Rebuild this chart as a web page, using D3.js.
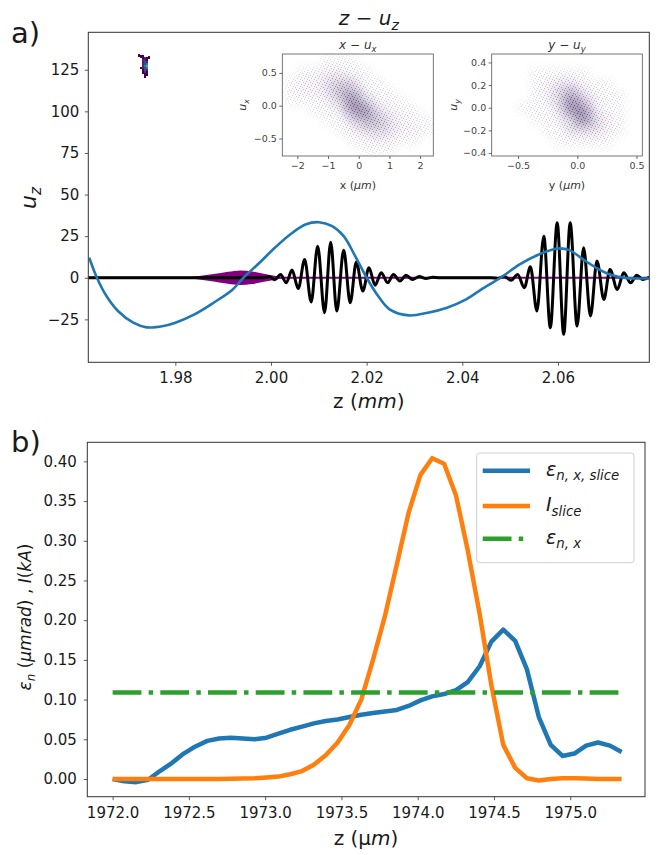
<!DOCTYPE html>
<html>
<head>
<meta charset="utf-8">
<script src="https://cdn.jsdelivr.net/npm/d3@7"></script>
<style>
  body { margin: 0; background: #fff; }
  svg { display: block; }
  text { font-family: "DejaVu Sans", sans-serif; }
</style>
</head>
<body>
<svg id="chart" width="660" height="855"></svg>
<script>
// ---------------- panel a) : z - u_z phase space ----------------
// wakefield (blue), sampled along z in mm
const wakeZ = [1.9620,1.9636,1.9656,1.9680,1.9712,1.9740,1.9775,1.9800,1.9840,1.9880,1.9920,1.99424,1.9976,2.0008,2.0040,2.0072,2.0100,2.0128,2.0152,2.0176,2.0200,2.0224,2.0248,2.0288,2.0328,2.0368,2.0408,2.0440,2.0480,2.0520,2.0560,2.0600,2.0624,2.0648,2.0680,2.0712,2.0744,2.0791];
const wakeU = [12,0,-11,-20,-27,-29.8,-29,-27,-22,-15,-7,0,9,18,26,32,33.4,31,25,13,0,-11,-19,-22.6,-21,-18,-13,-7,0,8,14,17.6,16.6,12,6,1.6,-0.2,-0.4];

// laser field (black): extrema of the two wave packets
const laserZ = [1.9618,1.9985,1.9996,2.0008,2.0020,2.0032,2.0044,2.0057,2.00704,2.0084,2.00976,2.0112,2.01248,2.01376,2.0152,2.01656,2.01784,2.0192,2.02048,2.02176,2.02304,2.0244,2.0256,2.02696,2.02824,2.0296,2.0310,2.0324,2.0338,2.0352,
                2.0460,2.0474,2.0488,2.0502,2.05158,2.05296,2.05424,2.0556,2.05704,2.0584,2.05984,2.0612,2.06256,2.0640,2.06536,2.0668,2.06816,2.0696,2.07088,2.0724,2.07376,2.0752,2.07648,2.07776,2.0791];
const laserE = [0,0,0.8,-1.2,2.0,-3.0,4.6,-6.5,11,-14.6,19,-21,21.4,-20,16.6,-15,9.5,-8,6,-4.5,3,-3,2,-2,1.5,-1,0.7,-0.5,0.3,0,
                0,-0.4,0.8,-1.5,2,-6,6.6,-20,25,-30,33,-34,33,-29,18,-23,10,-13,5,-7,3,-3,1.5,-1,0.3];

// electron bunch envelope (purple band)
const envZ = [1.9815,1.9850,1.9880,1.9910,1.9936,1.9960,1.9985,2.0010,2.0030];
const envHalf = [0,1.0,2.2,3.6,4.4,3.8,2.4,1.0,0];

// witness bunch in (z, u_z): binned particle counts (level 1..5)
const blobCells = [
  [1.9728,133.0,1],[1.9732,133.0,1],[1.9736,132.2,1],
  [1.9732,131.8,1],[1.9736,131.8,2],[1.9740,131.8,1],
  [1.9732,130.6,2],[1.9736,130.6,2],[1.9740,130.6,1],
  [1.9732,129.4,2],[1.9736,129.4,3],[1.9740,129.4,2],
  [1.9732,128.2,2],[1.9736,128.2,3],[1.9740,128.2,4],
  [1.9732,127.0,2],[1.9736,127.0,4],[1.9740,127.0,5],
  [1.9732,125.8,2],[1.9736,125.8,3],[1.9740,125.8,4],
  [1.9732,124.6,1],[1.9736,124.6,3],[1.9740,124.6,2],
  [1.9732,123.4,1],[1.9736,123.4,2],[1.9740,123.4,1],
  [1.9736,122.2,1],[1.9740,122.2,1],[1.9736,121.0,1],
  [1.9724,133.6,1],[1.9744,132.4,1],[1.9728,126.0,1]
];

const zTicksTop = [1.98, 2.00, 2.02, 2.04, 2.06];
const uzTicks = [-25, 0, 25, 50, 75, 100, 125];

// transverse phase spaces (insets): binned densities
const xCenters = [-2.2,-1.8,-1.4,-1.0,-0.6,-0.2,0.2,0.6,1.0,1.4,1.8,2.2];
const uxCenters = [0.675,0.525,0.375,0.225,0.075,-0.075,-0.225,-0.375,-0.525,-0.675];
const densityX = [
  [0,0,0,1,1,1,0,0,0,0,0,0],
  [0,1,1,2,2,1,1,0,0,0,0,0],
  [1,2,2,3,4,3,1,1,0,0,0,0],
  [1,2,2,3,5,5,2,1,1,0,0,0],
  [1,1,1,2,4,7,4,2,1,1,0,0],
  [0,0,1,1,2,6,7,3,2,1,1,0],
  [0,0,0,1,1,3,5,5,3,2,1,1],
  [0,0,0,0,1,2,3,4,3,2,2,1],
  [0,0,0,0,0,1,1,2,2,1,1,0],
  [0,0,0,0,0,0,1,1,1,0,0,0]
];
const yCenters = [-0.65,-0.55,-0.45,-0.35,-0.25,-0.15,-0.05,0.05,0.15,0.25,0.35,0.45];
const uyCenters = [0.4,0.3,0.2,0.1,0.0,-0.1,-0.2,-0.3,-0.4];
const densityY = [
  [0,0,0,0,0,0,0,0,0,0,0,0],
  [0,0,0,1,1,1,1,1,0,0,0,0],
  [0,0,0,1,2,3,3,2,1,1,0,0],
  [0,0,0,1,2,4,6,3,2,1,1,0],
  [0,0,1,1,1,3,8,6,2,1,1,0],
  [0,0,0,1,1,2,4,7,4,2,1,0],
  [0,0,0,0,1,1,3,3,3,2,1,0],
  [0,0,0,0,0,1,1,1,1,1,0,0],
  [0,0,0,0,0,0,0,0,0,0,0,0]
];
const xTicksIn = [-2,-1,0,1,2];
const uxTicksIn = [-0.5,0,0.5];
const yTicksIn = [-0.5,0,0.5];
const uyTicksIn = [-0.4,-0.2,0,0.2,0.4];

// ---------------- panel b) : slice emittance and current ----------------
const zSlice = [1972.000,1972.078,1972.155,1972.233,1972.310,1972.388,1972.466,1972.543,1972.621,1972.698,1972.776,1972.854,1972.931,1973.009,1973.087,1973.164,1973.242,1973.319,1973.397,1973.475,1973.552,1973.630,1973.707,1973.785,1973.863,1973.940,1974.018,1974.095,1974.173,1974.251,1974.328,1974.406,1974.483,1974.561,1974.639,1974.716,1974.794,1974.872,1974.949,1975.027,1975.104,1975.182,1975.260,1975.337];
const emitSlice = [0.000,-0.003,-0.004,-0.001,0.010,0.020,0.032,0.041,0.048,0.051,0.052,0.051,0.050,0.052,0.057,0.062,0.066,0.070,0.073,0.075,0.078,0.081,0.083,0.085,0.087,0.092,0.099,0.104,0.107,0.112,0.122,0.142,0.173,0.188,0.174,0.138,0.078,0.043,0.029,0.032,0.042,0.046,0.042,0.034];
const currentSlice = [0,0,0,0,0,0,0,0,0,0,0.0003,0.0005,0.001,0.002,0.003,0.006,0.010,0.018,0.030,0.046,0.068,0.100,0.150,0.205,0.270,0.335,0.383,0.404,0.397,0.357,0.288,0.208,0.118,0.043,0.014,0.001,-0.002,0,0.001,0.001,0.0005,0,0,0];
const emitProjected = 0.109;
const zTicksB = [1972.0,1972.5,1973.0,1973.5,1974.0,1974.5,1975.0];
const valTicksB = [0,0.05,0.10,0.15,0.20,0.25,0.30,0.35,0.40];

// ======================================================================
const svg = d3.select('#chart');
const defs = svg.append('defs');
const FONT = '"DejaVu Sans", sans-serif';

function addClip(id, x0, y0, x1, y1) {
  defs.append('clipPath').attr('id', id).append('rect')
    .attr('x', x0).attr('y', y0).attr('width', x1 - x0).attr('height', y1 - y0);
}
function addBlur(id, sd) {
  defs.append('filter').attr('id', id).attr('x', '-30%').attr('y', '-30%').attr('width', '160%').attr('height', '160%')
    .append('feGaussianBlur').attr('stdDeviation', sd);
}
addBlur('haze', 5.5);
addBlur('hazeTight', 3.5);

// fine speckle used to texture the particle clouds
const speck = defs.append('pattern').attr('id', 'speckle').attr('patternUnits', 'userSpaceOnUse')
  .attr('width', 7).attr('height', 7);
[[0.5, 0.5], [3.5, 1.5], [5.5, 4.5], [1.5, 3.5], [4.5, 6.5], [2.5, 5.5], [6.5, 2.5]].forEach(p =>
  speck.append('rect').attr('x', p[0] - 0.5).attr('y', p[1] - 0.5).attr('width', 1).attr('height', 1).attr('fill', '#3a1d5e'));

// text with italic runs and subscripts
function rich(parent, x, y, parts, size, anchor, rotate) {
  const t = parent.append('text').attr('x', x).attr('y', y)
    .attr('font-size', size).attr('text-anchor', anchor || 'start').attr('fill', '#1a1a1a');
  if (rotate) t.attr('transform', `rotate(${rotate},${x},${y})`);
  let inSub = false;
  parts.forEach(p => {
    const ts = t.append('tspan').text(p.t);
    if (p.i) ts.attr('font-style', 'italic');
    if (p.s) ts.attr('font-size', size * 0.7);
    if (p.s && !inSub) { ts.attr('dy', size * 0.24); inSub = true; }
    else if (!p.s && inSub) { ts.attr('dy', -size * 0.24); inSub = false; }
  });
  return t;
}

function styleAxis(g, size, color) {
  g.select('.domain').remove();
  g.selectAll('.tick line').attr('stroke', color || '#333').attr('stroke-width', 0.8);
  g.selectAll('.tick text').attr('font-size', size).attr('font-family', FONT).attr('fill', color || '#1a1a1a');
}

// ---------------- panel a ----------------
const A = { l: 88.3, r: 649.3, t: 32.3, b: 362.3 };
const xA = d3.scaleLinear().domain([1.9618, 2.0791]).range([A.l, A.r]);
const yA = d3.scaleLinear().domain([-50.8, 147.5]).range([A.b, A.t]);
addClip('clipA', A.l, A.t, A.r, A.b);

const gA = svg.append('g').attr('clip-path', 'url(#clipA)');

// bunch envelope
gA.append('path')
  .datum(d3.zip(envZ, envHalf))
  .attr('d', d3.area().x(d => xA(d[0])).y0(d => yA(-d[1])).y1(d => yA(d[1])).curve(d3.curveMonotoneX))
  .attr('fill', '#800080');
// bunch axis
gA.append('path')
  .datum([laserZ[0], laserZ[laserZ.length - 1]])
  .attr('d', d3.line().x(d => xA(d)).y(() => yA(0)))
  .attr('stroke', '#800080').attr('stroke-width', 2.2).attr('fill', 'none');
// laser field
gA.append('path')
  .datum(d3.zip(laserZ, laserE))
  .attr('d', d3.line().x(d => xA(d[0])).y(d => yA(d[1])).curve(d3.curveMonotoneX))
  .attr('stroke', '#000').attr('stroke-width', 3).attr('fill', 'none').attr('stroke-linejoin', 'round');
// wakefield
gA.append('path')
  .datum(d3.zip(wakeZ, wakeU))
  .attr('d', d3.line().x(d => xA(d[0])).y(d => yA(d[1])).curve(d3.curveCatmullRom.alpha(0.5)))
  .attr('stroke', '#1f77b4').attr('stroke-width', 2.6).attr('fill', 'none');

// witness bunch cells
const blobColor = ['#f0e6f5', '#440154', '#482878', '#3e4a89', '#26828e', '#35b779'];
const dzCell = 0.0004, duCell = 1.2;
gA.append('g').attr('shape-rendering', 'crispEdges').selectAll('rect').data(blobCells).join('rect')
  .attr('x', d => xA(d[0] - dzCell / 2))
  .attr('y', d => yA(d[1] + duCell / 2))
  .attr('width', xA(dzCell) - xA(0) + 0.4)
  .attr('height', yA(0) - yA(duCell) + 0.4)
  .attr('fill', d => blobColor[d[2]]);

// axes of panel a
svg.append('g').attr('transform', `translate(0,${A.b})`)
  .call(d3.axisBottom(xA).tickValues(zTicksTop).tickFormat(d3.format('.2f')).tickSize(3.5).tickPadding(7))
  .call(g => styleAxis(g, 15));
svg.append('g').attr('transform', `translate(${A.l},0)`)
  .call(d3.axisLeft(yA).tickValues(uzTicks).tickFormat(d3.format('d')).tickSize(3.5).tickPadding(5.5))
  .call(g => styleAxis(g, 15));
svg.append('rect').attr('x', A.l).attr('y', A.t).attr('width', A.r - A.l).attr('height', A.b - A.t)
  .attr('fill', 'none').attr('stroke', '#333').attr('stroke-width', 1);

rich(svg, 368.8, 25, [{ t: 'z', i: 1 }, { t: ' − ' }, { t: 'u', i: 1 }, { t: 'z', i: 1, s: 1 }], 20, 'middle');
rich(svg, 368.8, 408, [{ t: 'z (' }, { t: 'mm', i: 1 }, { t: ')' }], 20, 'middle');
rich(svg, 36, 198, [{ t: 'u', i: 1 }, { t: 'z', i: 1, s: 1 }], 22, 'middle', -90);
svg.append('text').attr('x', 11).attr('y', 43).attr('font-size', 29).attr('fill', '#1a1a1a').text('a)');

// ---------------- insets ----------------
function inset(cfg) {
  const { l, r, t, b } = cfg.box;
  const x = d3.scaleLinear().domain(cfg.xDom).range([l, r]);
  const y = d3.scaleLinear().domain(cfg.yDom).range([b, t]);
  const id = 'clip' + cfg.key;
  addClip(id, l, t, r, b);
  svg.append('rect').attr('x', l).attr('y', t).attr('width', r - l).attr('height', b - t).attr('fill', '#fff');
  const cells = [];
  cfg.rows.forEach((u, i) => cfg.cols.forEach((c, j) => {
    if (cfg.grid[i][j] > 0) cells.push({ c, u, n: cfg.grid[i][j] });
  }));
  const cellRects = (sel, fill, op) => sel.selectAll('rect').data(cells).join('rect')
    .attr('x', d => x(d.c - cfg.bx / 2)).attr('y', d => y(d.u + cfg.by / 2))
    .attr('width', x(cfg.bx) - x(0)).attr('height', y(0) - y(cfg.by))
    .attr('fill', fill).attr('fill-opacity', op);

  // luminance mask built from the density cells
  const mask = defs.append('mask').attr('id', 'mask' + cfg.key).attr('maskUnits', 'userSpaceOnUse')
    .attr('x', l).attr('y', t).attr('width', r - l).attr('height', b - t);
  mask.append('rect').attr('x', l).attr('y', t).attr('width', r - l).attr('height', b - t).attr('fill', '#000');
  cellRects(mask.append('g').attr('filter', 'url(#hazeTight)'), '#fff', d => Math.min(0.25 + d.n * 0.11, 1));

  const g = svg.append('g').attr('clip-path', `url(#${id})`);
  // faint haze of the cloud
  cellRects(g.append('g').attr('filter', 'url(#haze)'), '#3a1d5e', d => Math.min(d.n * d.n * 0.012, 0.55));
  // speckled particles
  g.append('rect').attr('x', l).attr('y', t).attr('width', r - l).attr('height', b - t)
    .attr('fill', 'url(#speckle)').attr('opacity', 0.55).attr('mask', `url(#mask${cfg.key})`);

  svg.append('g').attr('transform', `translate(0,${b})`)
    .call(d3.axisBottom(x).tickValues(cfg.xTicks).tickFormat(cfg.xFmt).tickSize(3).tickPadding(3))
    .call(g => styleAxis(g, 9.5, '#444'));
  svg.append('g').attr('transform', `translate(${l},0)`)
    .call(d3.axisLeft(y).tickValues(cfg.yTicks).tickFormat(d3.format('.1f')).tickSize(3).tickPadding(2.5))
    .call(g => styleAxis(g, 9.5, '#444'));
  svg.append('rect').attr('x', l).attr('y', t).attr('width', r - l).attr('height', b - t)
    .attr('fill', 'none').attr('stroke', '#555').attr('stroke-width', 0.8);
  const cx = (l + r) / 2;
  rich(svg, cx, 49, cfg.title, 12, 'middle').attr('fill', '#333');
  rich(svg, cx, 189, cfg.xLabel, 11, 'middle').attr('fill', '#333');
  rich(svg, cfg.yLabelX, (t + b) / 2, cfg.yLabel, 11, 'middle', -90).attr('fill', '#333');
}

inset({
  key: 'X', box: { l: 282.3, r: 433.3, t: 54, b: 156 },
  xDom: [-2.49, 2.43], yDom: [-0.767, 0.788],
  cols: xCenters, rows: uxCenters, grid: densityX, bx: 0.4, by: 0.15,
  xTicks: xTicksIn, xFmt: d3.format('d'), yTicks: uxTicksIn,
  title: [{ t: 'x', i: 1 }, { t: ' − ' }, { t: 'u', i: 1 }, { t: 'x', i: 1, s: 1 }],
  xLabel: [{ t: 'x (' }, { t: 'μm', i: 1 }, { t: ')' }],
  yLabel: [{ t: 'u', i: 1 }, { t: 'x', i: 1, s: 1 }], yLabelX: 246
});
inset({
  key: 'Y', box: { l: 491.7, r: 642.3, t: 54, b: 156 },
  xDom: [-0.723, 0.549], yDom: [-0.427, 0.475],
  cols: yCenters, rows: uyCenters, grid: densityY, bx: 0.1, by: 0.1,
  xTicks: yTicksIn, xFmt: d3.format('.1f'), yTicks: uyTicksIn,
  title: [{ t: 'y', i: 1 }, { t: ' − ' }, { t: 'u', i: 1 }, { t: 'y', i: 1, s: 1 }],
  xLabel: [{ t: 'y (' }, { t: 'μm', i: 1 }, { t: ')' }],
  yLabel: [{ t: 'u', i: 1 }, { t: 'y', i: 1, s: 1 }], yLabelX: 457
});

// ---------------- panel b ----------------
const B = { l: 87.3, r: 645, t: 442.3, b: 796.7 };
const xB = d3.scaleLinear().domain([1971.834, 1975.49]).range([B.l, B.r]);
const yB = d3.scaleLinear().domain([-0.0223, 0.424]).range([B.b, B.t]);
addClip('clipB', B.l, B.t, B.r, B.b);
const gB = svg.append('g').attr('clip-path', 'url(#clipB)');

const lineB = d3.line().x(d => xB(d[0])).y(d => yB(d[1]));
gB.append('path').datum(d3.zip(zSlice, emitSlice)).attr('d', lineB)
  .attr('stroke', '#1f77b4').attr('stroke-width', 4.5).attr('fill', 'none').attr('stroke-linejoin', 'round');
gB.append('path').datum(d3.zip(zSlice, currentSlice)).attr('d', lineB)
  .attr('stroke', '#ff7f0e').attr('stroke-width', 4.5).attr('fill', 'none').attr('stroke-linejoin', 'round');
gB.append('path').datum([[zSlice[0], emitProjected], [zSlice[zSlice.length - 1], emitProjected]]).attr('d', lineB)
  .attr('stroke', '#2ca02c').attr('stroke-width', 4.5).attr('fill', 'none')
  .attr('stroke-dasharray', '28.8,7.2,4.5,7.2');

svg.append('g').attr('transform', `translate(0,${B.b})`)
  .call(d3.axisBottom(xB).tickValues(zTicksB).tickFormat(d3.format('.1f')).tickSize(3.5).tickPadding(7.5))
  .call(g => styleAxis(g, 15));
svg.append('g').attr('transform', `translate(${B.l},0)`)
  .call(d3.axisLeft(yB).tickValues(valTicksB).tickFormat(d3.format('.2f')).tickSize(3.5).tickPadding(7))
  .call(g => styleAxis(g, 15));
svg.append('rect').attr('x', B.l).attr('y', B.t).attr('width', B.r - B.l).attr('height', B.b - B.t)
  .attr('fill', 'none').attr('stroke', '#333').attr('stroke-width', 1);

rich(svg, 366, 845, [{ t: 'z (μ' }, { t: 'm', i: 1 }, { t: ')' }], 20, 'middle');
rich(svg, 31, 617, [{ t: 'ε', i: 1 }, { t: 'n', i: 1, s: 1 }, { t: ' (' }, { t: 'μmrad', i: 1 }, { t: ') , ' }, { t: 'I', i: 1 }, { t: '(' }, { t: 'kA', i: 1 }, { t: ')' }], 17, 'middle', -90);
svg.append('text').attr('x', 11).attr('y', 452).attr('font-size', 29).attr('fill', '#1a1a1a').text('b)');

// legend
const legendItems = [
  { color: '#1f77b4', dash: null, label: [{ t: 'ε', i: 1 }, { t: 'n, x, slice', i: 1, s: 1 }] },
  { color: '#ff7f0e', dash: null, label: [{ t: 'I', i: 1 }, { t: 'slice', i: 1, s: 1 }] },
  { color: '#2ca02c', dash: '28.8,7.2,4.5,7.2', label: [{ t: 'ε', i: 1 }, { t: 'n, x', i: 1, s: 1 }] }
];
const lg = svg.append('g');
lg.append('rect').attr('x', 476.7).attr('y', 453).attr('width', 157.3).attr('height', 109.7).attr('rx', 3)
  .attr('fill', '#fff').attr('fill-opacity', 0.8).attr('stroke', '#d0d0d0').attr('stroke-width', 1);
const legendY = [470.7, 506, 538.7];
legendItems.forEach((it, i) => {
  lg.append('line').attr('x1', 482.7).attr('x2', 530).attr('y1', legendY[i]).attr('y2', legendY[i])
    .attr('stroke', it.color).attr('stroke-width', 4.5).attr('stroke-dasharray', it.dash);
  rich(lg, 546, legendY[i] + 5, it.label, 19, 'start');
});
</script>
</body>
</html>
